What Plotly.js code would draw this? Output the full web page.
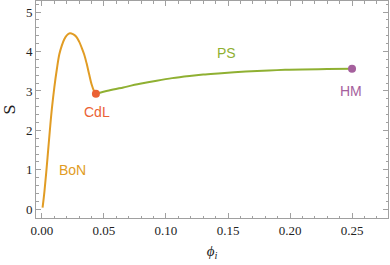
<!DOCTYPE html>
<html><head><meta charset="utf-8">
<script src="https://cdn.plot.ly/plotly-3.0.1.min.js"></script>
<style>html,body{margin:0;padding:0;background:#fff}#chart{width:390px;height:265px}</style>
</head><body><div id="chart"></div>
<script>
// BoN branch (orange)
const bonPhi = [0.0005,0.002,0.0035,0.005,0.0065,0.008,0.010,0.012,0.014,0.016,0.018,0.020,0.0225,0.025,0.0275,0.030,0.032,0.034,0.036,0.038,0.040,0.042,0.0435];
const bonS   = [0.04,0.45,0.95,1.5,2.05,2.55,3.1,3.55,3.93,4.15,4.31,4.41,4.46,4.44,4.38,4.25,4.1,3.93,3.7,3.43,3.17,3.0,2.93];
// PS branch (green)
const psPhi = [0.0435,0.054,0.0656,0.079,0.0925,0.105,0.119,0.13,0.142,0.155,0.169,0.183,0.196,0.21,0.23,0.25];
const psS   = [2.93,3.01,3.09,3.18,3.26,3.325,3.38,3.415,3.445,3.475,3.50,3.52,3.535,3.546,3.555,3.56];
// Special points
const cdl = {phi:0.0435, S:2.93};
const hm  = {phi:0.25, S:3.56};
const xTicks = [0,0.05,0.10,0.15,0.20,0.25];
const xTickText = ["0.00","0.05","0.10","0.15","0.20","0.25"];
const yTicks = [0,1,2,3,4,5];

const orange = '#E19C24', green = '#8FB032', red = '#EB6235', purple = '#A5609D';
const frame = '#a0a0a0';
const sans = 'Liberation Sans';

const traces = [
  {x:bonPhi, y:bonS, mode:'lines', line:{color:orange, width:2, shape:'spline', smoothing:1}, hoverinfo:'skip'},
  {x:psPhi, y:psS, mode:'lines', line:{color:green, width:2, shape:'spline', smoothing:1}, hoverinfo:'skip'},
  {x:[cdl.phi], y:[cdl.S], mode:'markers', marker:{color:red, size:8}},
  {x:[hm.phi], y:[hm.S], mode:'markers', marker:{color:purple, size:8}}
];

const layout = {
  width:390, height:265,
  margin:{l:36, r:2, t:1, b:47},
  showlegend:false,
  font:{family:'Liberation Serif', size:13, color:'#222'},
  paper_bgcolor:'#fff', plot_bgcolor:'#fff',
  xaxis:{
    range:[-0.0048,0.279], tickvals:xTicks, ticktext:xTickText,
    ticks:'inside', ticklen:5, tickcolor:frame, tickwidth:1,
    minor:{dtick:0.01, tick0:0, ticks:'inside', ticklen:2.5, tickcolor:frame},
    showline:true, linecolor:frame, linewidth:1, mirror:'allticks',
    showgrid:false, zeroline:false, tickfont:{family:'Times New Roman', size:13, color:'#222'},
    title:{text:'<i>ϕ</i><sub><i>i</i></sub>', font:{family:'serif', size:15, color:'#222'}, standoff:8}
  },
  yaxis:{
    range:[-0.22,5.28], tickvals:yTicks,
    ticks:'inside', ticklen:5, tickcolor:frame, tickwidth:1,
    minor:{dtick:0.2, tick0:0, ticks:'inside', ticklen:2.5, tickcolor:frame},
    showline:true, linecolor:frame, linewidth:1, mirror:'allticks',
    showgrid:false, zeroline:false, tickfont:{family:'Liberation Serif', size:13, color:'#222'},
    title:{text:'S', font:{family:'DejaVu Serif', size:15, color:'#222'}, standoff:6}
  },
  annotations:[
    {x:0.0444, y:2.46, text:'CdL', showarrow:false, font:{family:sans, size:14, color:red}},
    {x:0.025, y:1.0, text:'BoN', showarrow:false, font:{family:sans, size:14, color:orange}},
    {x:0.149, y:3.97, text:'PS', showarrow:false, font:{family:sans, size:14, color:green}},
    {x:0.249, y:3.01, text:'HM', showarrow:false, font:{family:sans, size:14, color:purple}}
  ]
};
Plotly.newPlot('chart', traces, layout, {displayModeBar:false, staticPlot:true});
</script></body></html>
